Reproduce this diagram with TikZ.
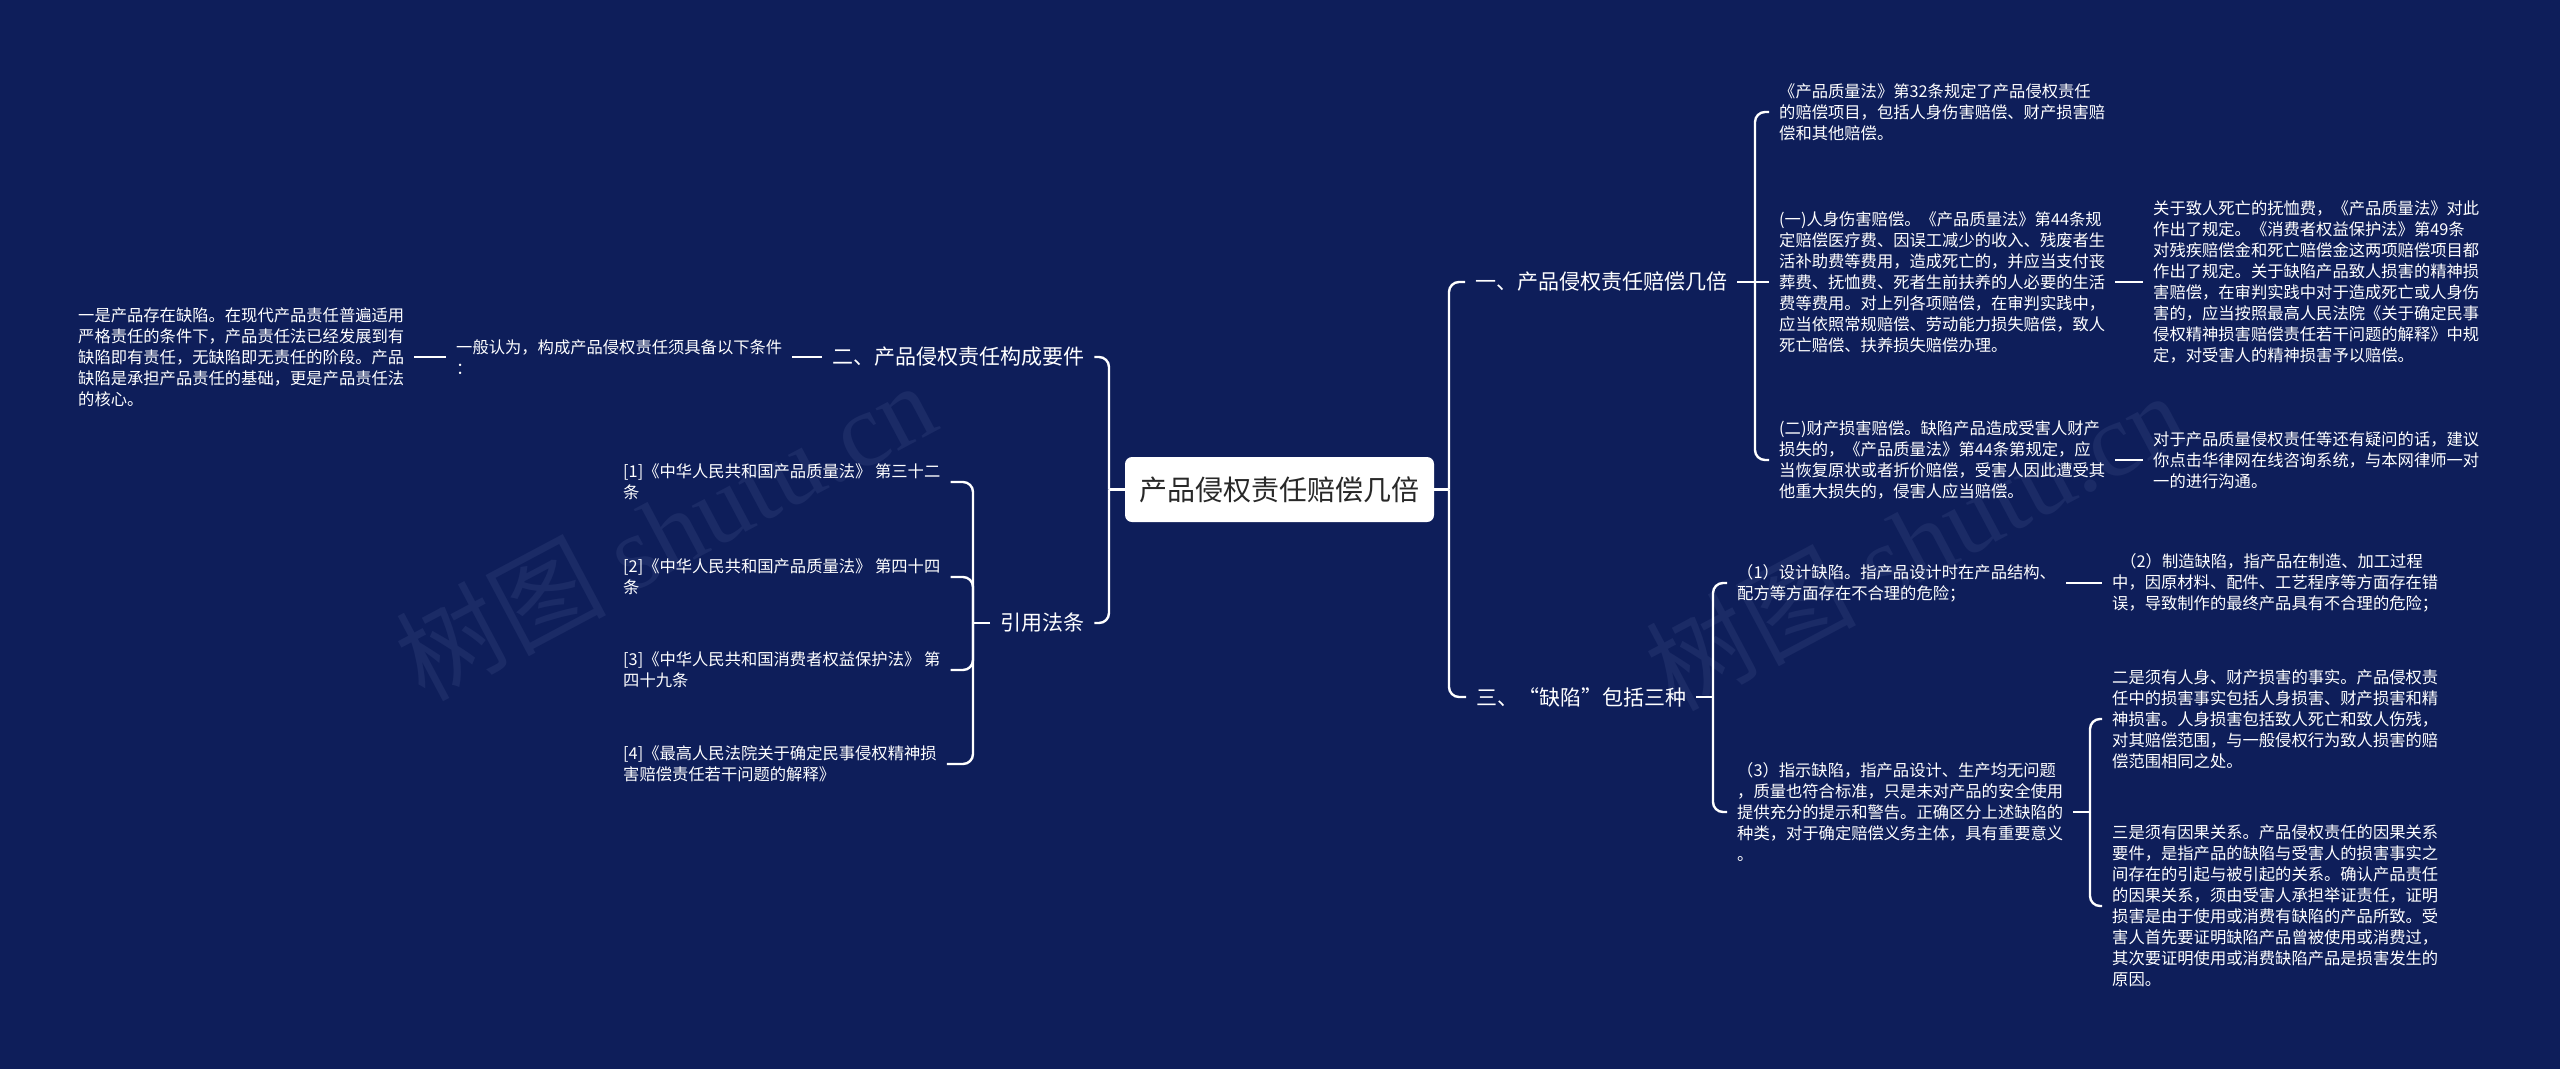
\documentclass[tikz,border=0pt]{standalone}
\usepackage{fontspec}
\setmainfont{Noto Sans CJK SC}
\newfontfamily\wmlatin{Liberation Serif}
\definecolor{bgc}{RGB}{14,30,90}
\definecolor{wmc}{RGB}{27,43,102}
\definecolor{roottext}{RGB}{40,40,40}
\begin{document}
\begin{tikzpicture}[x=1pt,y=-1pt,
  txt/.style={anchor=west, align=left, text=white, inner xsep=10pt, inner ysep=1pt, font=\fontsize{16.3pt}{21pt}\selectfont},
  mid/.style={anchor=west, text=white, inner xsep=10pt, inner ysep=1pt, font=\fontsize{21pt}{25pt}\selectfont},
  link/.style={draw=white, line width=2.4pt},
  bracket/.style={link, rounded corners=10pt},
  wmark/.style={rotate=28, text=wmc, inner sep=0pt, font=\fontsize{105pt}{110pt}\selectfont}]
\fill[bgc] (0,0) rectangle (2560,1069);
\useasboundingbox (0,0) rectangle (2560,1069);
% watermarks
\node[wmark] (wm1) at (665,530) {树图 {\wmlatin shutu.cn}};
\node[wmark] (wm2) at (1915,540) {树图 {\wmlatin shutu.cn}};
% root
\node[fill=white, rounded corners=7pt, minimum width=309pt, minimum height=65pt, inner sep=0pt,
  text=roottext, font=\fontsize{28pt}{32pt}\selectfont] (root) at (1279.5,489.5) {产品侵权责任赔偿几倍};
% bracket junctions
\coordinate (R0) at (1449,489.5);
\coordinate (L0) at (1109,489.5);
\coordinate (R1) at (1755,282);
\coordinate (R3) at (1713,697);
\coordinate (R33) at (2090,812);
\coordinate (L4) at (973,623);
% right side
\node[mid] (b1) at (1465,282) {一、产品侵权责任赔偿几倍};
\node[mid] (b3) at (1466,697) {三、“缺陷”包括三种};
\node[txt] (c1) at (1769,112) {《产品质量法》第32条规定了产品侵权责任\\的赔偿项目，包括人身伤害赔偿、财产损害赔\\偿和其他赔偿。};
\node[txt] (c2) at (1769,282) {(一)人身伤害赔偿。《产品质量法》第44条规\\定赔偿医疗费、因误工减少的收入、残废者生\\活补助费等费用，造成死亡的，并应当支付丧\\葬费、抚恤费、死者生前扶养的人必要的生活\\费等费用。对上列各项赔偿，在审判实践中，\\应当依照常规赔偿、劳动能力损失赔偿，致人\\死亡赔偿、扶养损失赔偿办理。};
\node[txt] (c3) at (1769,460) {(二)财产损害赔偿。缺陷产品造成受害人财产\\损失的，《产品质量法》第44条第规定，应\\当恢复原状或者折价赔偿，受害人因此遭受其\\他重大损失的，侵害人应当赔偿。};
\node[txt] (c2c) at (2143,282) {关于致人死亡的抚恤费，《产品质量法》对此\\作出了规定。《消费者权益保护法》第49条\\对残疾赔偿金和死亡赔偿金这两项赔偿项目都\\作出了规定。关于缺陷产品致人损害的精神损\\害赔偿，在审判实践中对于造成死亡或人身伤\\害的，应当按照最高人民法院《关于确定民事\\侵权精神损害赔偿责任若干问题的解释》中规\\定，对受害人的精神损害予以赔偿。};
\node[txt] (c3c) at (2143,460) {对于产品质量侵权责任等还有疑问的话，建议\\你点击华律网在线咨询系统，与本网律师一对\\一的进行沟通。};
\node[txt] (d1) at (1727,583) {（1）设计缺陷。指产品设计时在产品结构、\\配方等方面存在不合理的危险；};
\node[txt] (d1c) at (2102,583) {\hspace*{0.5em}（2）制造缺陷，指产品在制造、加工过程\\中，因原材料、配件、工艺程序等方面存在错\\误，导致制作的最终产品具有不合理的危险；};
\node[txt] (d3) at (1727,812) {（3）指示缺陷，指产品设计、生产均无问题\\，质量也符合标准，只是未对产品的安全使用\\提供充分的提示和警告。正确区分上述缺陷的\\种类，对于确定赔偿义务主体，具有重要意义\\。};
\node[txt] (e1) at (2102,719) {二是须有人身、财产损害的事实。产品侵权责\\任中的损害事实包括人身损害、财产损害和精\\神损害。人身损害包括致人死亡和致人伤残，\\对其赔偿范围，与一般侵权行为致人损害的赔\\偿范围相同之处。};
\node[txt] (e2) at (2102,906) {三是须有因果关系。产品侵权责任的因果关系\\要件，是指产品的缺陷与受害人的损害事实之\\间存在的引起与被引起的关系。确认产品责任\\的因果关系，须由受害人承担举证责任，证明\\损害是由于使用或消费有缺陷的产品所致。受\\害人首先要证明缺陷产品曾被使用或消费过，\\其次要证明使用或消费缺陷产品是损害发生的\\原因。};
% left side
\node[mid] (b2) at (822,357) {二、产品侵权责任构成要件};
\node[mid] (b4) at (990,623) {引用法条};
\node[txt] (g1) at (446,357) {一般认为，构成产品侵权责任须具备以下条件\\：};
\node[txt] (h1) at (68,357) {一是产品存在缺陷。在现代产品责任普遍适用\\严格责任的条件下，产品责任法已经发展到有\\缺陷即有责任，无缺陷即无责任的阶段。产品\\缺陷是承担产品责任的基础，更是产品责任法\\的核心。};
\node[txt] (r1) at (613,482) {[1]《中华人民共和国产品质量法》 第三十二\\条};
\node[txt] (r2) at (613,577) {[2]《中华人民共和国产品质量法》 第四十四\\条};
\node[txt] (r3) at (613,670) {[3]《中华人民共和国消费者权益保护法》 第\\四十九条};
\node[txt] (r4) at (613,764) {[4]《最高人民法院关于确定民事侵权精神损\\害赔偿责任若干问题的解释》};
% connectors right
\draw[link] (root.east) -- (R0);
\draw[bracket] (R0) |- (b1.west);
\draw[bracket] (R0) |- (b3.west);
\draw[link] (b1.east) -- (R1);
\draw[bracket] (R1) |- (c1.west);
\draw[link] (R1) -- (c2.west);
\draw[bracket] (R1) |- (c3.west);
\draw[link] (c2.east) -- (c2c.west);
\draw[link] (c3.east) -- (c3c.west);
\draw[link] (b3.east) -- (R3);
\draw[bracket] (R3) |- (d1.west);
\draw[bracket] (R3) |- (d3.west);
\draw[link] (d1.east) -- (d1c.west);
\draw[link] (d3.east) -- (R33);
\draw[bracket] (R33) |- (e1.west);
\draw[bracket] (R33) |- (e2.west);
% connectors left
\draw[link] (root.west) -- (L0);
\draw[bracket] (L0) |- (b2.east);
\draw[bracket] (L0) |- (b4.east);
\draw[link] (b2.west) -- (g1.east);
\draw[link] (g1.west) -- (h1.east);
\draw[link] (b4.west) -- (L4);
\draw[bracket] (L4) |- (r1.east);
\draw[bracket] (L4) |- (r2.east);
\draw[bracket] (L4) |- (r3.east);
\draw[bracket] (L4) |- (r4.east);
\end{tikzpicture}
\end{document}
